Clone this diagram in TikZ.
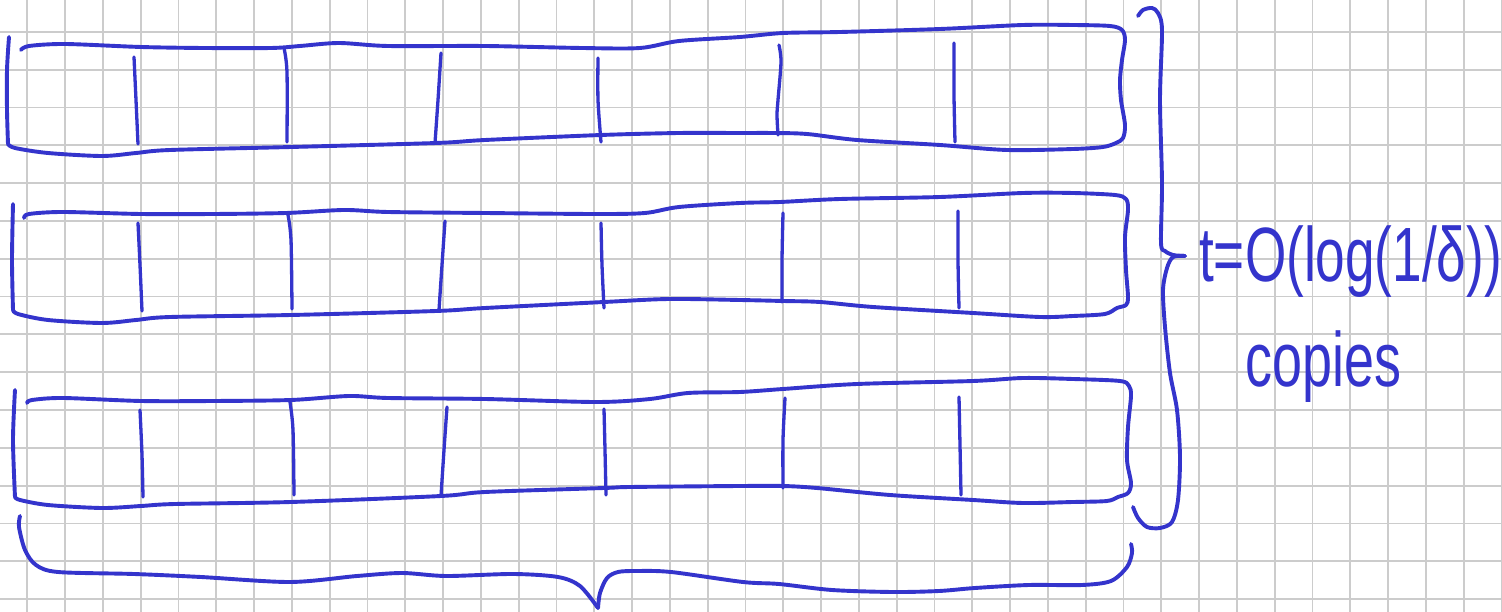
\documentclass[tikz,border=0pt]{standalone}
\usepackage{fontspec}
\setmainfont{Liberation Sans}
\usepackage{graphicx}
\definecolor{inkc}{RGB}{52,52,204}
\definecolor{gridc}{RGB}{204,204,204}
\tikzset{
  pen/.style={draw=inkc, line width=3.9pt, line cap=round, line join=round},
  thinpen/.style={pen, line width=3.3pt},
  gridline/.style={draw=gridc, line width=1.8pt},
  hand/.style={text=inkc, inner sep=0pt, font=\fontsize{77}{80}\selectfont}
}
\begin{document}
\begin{tikzpicture}[x=1pt,y=-1pt]
\useasboundingbox (0,0) rectangle (1502,612);
\fill[white] (0,0) rectangle (1502,612);
% grid paper
\foreach \i in {0,...,39} \draw[gridline] ({27.3+37.8*\i},0) -- ({27.3+37.8*\i},612);
\foreach \j in {0,...,15} \draw[gridline] (0,{32+37.8*\j}) -- (1502,{32+37.8*\j});

% ---------- bar 1 ----------
\draw[pen] plot[smooth] coordinates {(21,50) (29,46) (65,44) (141,47) (204,48) (271,48) (300,46) (339,43) (388,46) (485,46) (582,48) (640,48) (679,41) (740,37) (783,33) (840,32) (940,29) (1023,25) (1073,25) (1110,26) (1122,30) (1125,40)
 (1122,60) (1120,80) (1121,100) (1125,125) (1123,138) (1116,143) (1103,147)
 (1073,149) (1007,150) (940,145) (857,140) (807,134) (773,133) (740,133) (679,133) (601,135) (485,140) (436,143) (291,147) (170,150) (136,153) (102,156) (48,153) (15,148) (8,144)};
\draw[pen] plot[smooth] coordinates {(8,144) (7,110) (7,70) (9,37)};
\draw[thinpen] plot[smooth] coordinates {(134,57) (136,100) (138,144)};
\draw[thinpen] plot[smooth] coordinates {(284,48) (287,72) (287,142)};
\draw[thinpen] plot[smooth] coordinates {(441,53) (438,100) (435,143)};
\draw[thinpen] plot[smooth] coordinates {(598,58) (598,100) (601,142)};
\draw[thinpen] plot[smooth] coordinates {(779,45) (781,62) (778,100) (777,115) (778,135)};
\draw[thinpen] plot[smooth] coordinates {(954,43) (954,95) (955,142)};

% ---------- bar 2 ----------
\draw[pen] plot[smooth] coordinates {(24,218) (29,214) (63,212) (141,214) (213,214) (286,213) (344,210) (388,212) (485,213) (596,214) (645,213) (679,207) (740,203) (780,202) (840,199) (940,197) (1023,193) (1073,193) (1115,195) (1126,199) (1128,210)
 (1125,237) (1126,270) (1128,297) (1126,305) (1117,308) (1105,314)
 (1073,316) (1040,317) (973,313) (873,307) (820,302) (783,301) (740,300) (669,299) (604,302) (485,308) (436,311) (291,315) (170,317) (136,320) (102,323) (48,320) (18,314) (13,310)};
\draw[pen] plot[smooth] coordinates {(13,310) (12,260) (13,204)};
\draw[thinpen] plot[smooth] coordinates {(138,223) (140,265) (142,311)};
\draw[thinpen] plot[smooth] coordinates {(288,215) (291,240) (292,309)};
\draw[thinpen] plot[smooth] coordinates {(445,221) (442,265) (439,310)};
\draw[thinpen] plot[smooth] coordinates {(601,223) (602,265) (604,308)};
\draw[thinpen] plot[smooth] coordinates {(783,213) (782,260) (782,302)};
\draw[thinpen] plot[smooth] coordinates {(958,211) (958,260) (959,308)};

% ---------- bar 3 ----------
\draw[pen] plot[smooth] coordinates {(27,403) (32,400) (63,398) (141,401) (213,401) (291,400) (349,396) (388,398) (485,399) (596,402) (650,399) (688,393) (740,392) (783,389) (857,384) (973,381) (1023,378) (1073,379) (1120,381) (1129,386) (1131,396)
 (1128,427) (1127,460) (1131,483) (1128,493) (1118,497) (1107,501)
 (1073,502) (1023,503) (973,500) (890,495) (817,488) (783,486) (740,486) (630,487) (604,488) (485,492) (441,496) (291,502) (175,504) (141,506) (102,508) (48,505) (20,500) (15,497)};
\draw[pen] plot[smooth] coordinates {(15,497) (13,440) (15,390)};
\draw[thinpen] plot[smooth] coordinates {(140,410) (142,455) (143,497)};
\draw[thinpen] plot[smooth] coordinates {(290,402) (293,430) (294,495)};
\draw[thinpen] plot[smooth] coordinates {(447,407) (444,450) (441,496)};
\draw[thinpen] plot[smooth] coordinates {(604,409) (605,450) (606,495)};
\draw[thinpen] plot[smooth] coordinates {(785,398) (783,440) (783,488)};
\draw[thinpen] plot[smooth] coordinates {(959,397) (960,445) (961,495)};

% ---------- bottom brace ----------
\draw[pen] plot[smooth] coordinates {(20,516) (19,527) (25,550) (36,565) (58,572) (134,574) (201,577) (290,582) (357,576) (402,573) (446,576) (513,574) (558,577) (580,586) (598,608)};
\draw[pen] plot[smooth] coordinates {(598,608) (600,593) (607,578) (618,572) (636,571) (671,572) (743,582) (779,584) (832,590) (893,592) (939,591) (975,588) (1029,585) (1082,585) (1111,581) (1127,567) (1132,553) (1131,544)};

% ---------- right brace ----------
\draw[pen] plot[smooth] coordinates {(1138,16) (1143,10) (1152,8) (1158,13) (1162,30) (1160,100) (1162,183) (1161,243) (1165,251) (1173,255) (1185,256)};
\draw[pen] plot[smooth] coordinates {(1185,256) (1173,257) (1167,268) (1163,290) (1165,327) (1170,373) (1177,410) (1180,457) (1178,500) (1172,522) (1160,528) (1147,527) (1138,518) (1133,507)};

% ---------- label ----------
\node[hand, anchor=base west] (lbl) at (1199,282) {\scalebox{0.69}[1]{t=O(log(1/δ))}};
\node[hand, anchor=base west] (cop) at (1245,386) {\scalebox{0.70}[1]{copies}};
\end{tikzpicture}
\end{document}
